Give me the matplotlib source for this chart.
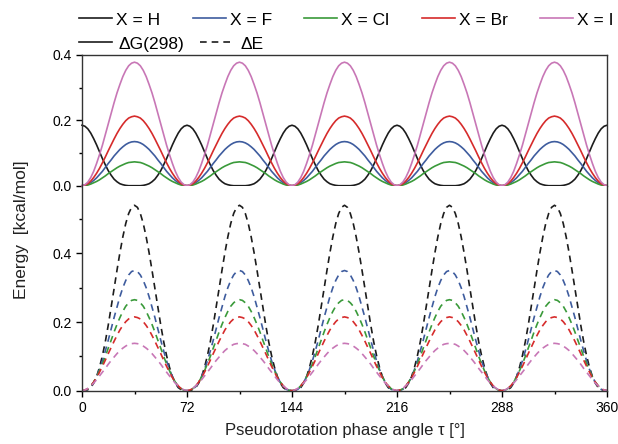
import numpy as np
import matplotlib
matplotlib.use("Agg")
import matplotlib.pyplot as plt
from matplotlib.lines import Line2D
from matplotlib.ticker import MultipleLocator

plt.rcParams['font.family'] = ['Liberation Sans', 'DejaVu Sans']

# pseudorotation angle, 2 deg steps over the full cycle
tau = np.arange(0, 362, 2)

# values read off one half period (tau = 0..36 deg), kcal/mol
# top panel: dG(298)
dG_H = [0.185, 0.182, 0.174, 0.161, 0.144, 0.125, 0.104, 0.083, 0.064, 0.046,
        0.032, 0.020, 0.012, 0.006, 0.003, 0.001, 0.0, 0.0, 0.0]
dG_F = [0.0, 0.001, 0.004, 0.009, 0.016, 0.024, 0.034, 0.044, 0.056, 0.068,
        0.079, 0.091, 0.101, 0.111, 0.119, 0.126, 0.131, 0.134, 0.135]
dG_Cl = [0.0, 0.001, 0.002, 0.005, 0.009, 0.013, 0.018, 0.024, 0.030, 0.037,
         0.043, 0.049, 0.055, 0.060, 0.064, 0.068, 0.071, 0.072, 0.073]
dG_Br = [0.0, 0.002, 0.006, 0.014, 0.025, 0.038, 0.053, 0.070, 0.088, 0.107,
         0.125, 0.143, 0.160, 0.175, 0.188, 0.199, 0.207, 0.211, 0.213]
dG_I = [0.0, 0.003, 0.011, 0.025, 0.044, 0.068, 0.095, 0.124, 0.156, 0.189,
        0.222, 0.254, 0.284, 0.310, 0.334, 0.353, 0.367, 0.375, 0.378]

# bottom panel: dE
dE_H = [0.0, 0.0, 0.003, 0.009, 0.022, 0.041, 0.068, 0.102, 0.143, 0.191,
        0.243, 0.297, 0.351, 0.402, 0.448, 0.487, 0.516, 0.534, 0.540]
dE_F = [0.0, 0.001, 0.004, 0.012, 0.024, 0.041, 0.062, 0.087, 0.116, 0.147,
        0.180, 0.213, 0.244, 0.274, 0.300, 0.321, 0.337, 0.347, 0.350]
dE_Cl = [0.0, 0.001, 0.006, 0.014, 0.025, 0.040, 0.058, 0.078, 0.100, 0.124,
         0.147, 0.171, 0.193, 0.213, 0.231, 0.246, 0.256, 0.263, 0.265]
dE_Br = [0.0, 0.002, 0.006, 0.014, 0.025, 0.038, 0.054, 0.071, 0.089, 0.108,
         0.126, 0.144, 0.161, 0.177, 0.190, 0.201, 0.209, 0.213, 0.215]
dE_I = [0.0, 0.002, 0.007, 0.014, 0.022, 0.032, 0.043, 0.054, 0.065, 0.077,
        0.088, 0.098, 0.108, 0.117, 0.124, 0.130, 0.135, 0.137, 0.138]

labels = ['X = H', 'X = F', 'X = Cl', 'X = Br', 'X = I']
colors = ['#1c1c1c', '#3e5c9e', '#3a9a3a', '#d62b2b', '#c877b6']


def full_curve(half, periods=5):
    # mirror the half period, then repeat the 72 deg period
    one = list(half) + list(half[-2::-1])
    return np.array(one[:-1] * periods + [one[-1]])


W, H = 618, 444
fig = plt.figure(figsize=(W / 100, H / 100), dpi=100)

x0, x1 = 82 / W, 607 / W
y_top, y_mid, y_bot = 1 - 55 / H, 1 - 185.7 / H, 1 - 390.7 / H
ax_t = fig.add_axes([x0, y_mid, x1 - x0, y_top - y_mid])
ax_b = fig.add_axes([x0, y_bot, x1 - x0, y_mid - y_bot])

for data, c in zip([dG_H, dG_F, dG_Cl, dG_Br, dG_I], colors):
    ax_t.plot(tau, full_curve(data), color=c, lw=1.2, clip_on=False)

for data, c in zip([dE_H, dE_F, dE_Cl, dE_Br, dE_I], colors):
    ax_b.plot(tau, full_curve(data), color=c, lw=1.2, dashes=(4, 3))

for ax in (ax_t, ax_b):
    ax.set_xlim(0, 360)
    ax.yaxis.set_major_locator(MultipleLocator(0.2))
    ax.yaxis.set_minor_locator(MultipleLocator(0.1))
    ax.yaxis.set_major_formatter(matplotlib.ticker.FormatStrFormatter('%.1f'))
    ax.tick_params(axis='both', which='major', direction='out', length=4.5,
                   width=1.0, labelsize=10, pad=3)
    ax.tick_params(axis='both', which='minor', direction='out', length=2.5,
                   width=1.0)
    for s in ax.spines.values():
        s.set_linewidth(1.0)
        s.set_color('#333333')

ax_t.set_ylim(0, 0.4)
ax_t.spines['bottom'].set_visible(False)
ax_t.tick_params(axis='x', which='both', bottom=False, labelbottom=False)

ax_b.set_ylim(0, 0.597)
ax_b.set_yticks([0.0, 0.2, 0.4])
ax_b.set_yticks([0.1, 0.3, 0.5], minor=True)
ax_b.spines['top'].set_visible(False)
ax_b.set_xticks([0, 72, 144, 216, 288, 360])
ax_b.xaxis.set_minor_locator(MultipleLocator(36))

fig.text(0.034, 0.482, 'Energy  [kcal/mol]', rotation=90, ha='center',
         va='center', fontsize=12.5, color='#222222')
fig.text((x0 + x1) / 2, 0.03, 'Pseudorotation phase angle τ [°]',
         ha='center', va='center', fontsize=12, color='#222222')

h1 = [Line2D([], [], color=c, lw=1.2) for c in colors]
fig.legend(h1, labels, loc='center left', bbox_to_anchor=(79 / W, 1 - 20 / H),
           ncol=5, frameon=False, borderpad=0, borderaxespad=0,
           handlelength=1.9, handletextpad=0.25, columnspacing=1.85,
           fontsize=12.5)

h2 = [Line2D([], [], color='#1c1c1c', lw=1.2),
      Line2D([], [], color='#1c1c1c', lw=1.2, dashes=(4, 3))]
fig.legend(h2, ['ΔG(298)', 'ΔE'], loc='center left',
           bbox_to_anchor=(79 / W, 1 - 44 / H), ncol=2, frameon=False,
           borderpad=0, borderaxespad=0, handlelength=1.9,
           handletextpad=0.4, columnspacing=0.9, fontsize=12.5)

fig.savefig('out.png', dpi=100)
